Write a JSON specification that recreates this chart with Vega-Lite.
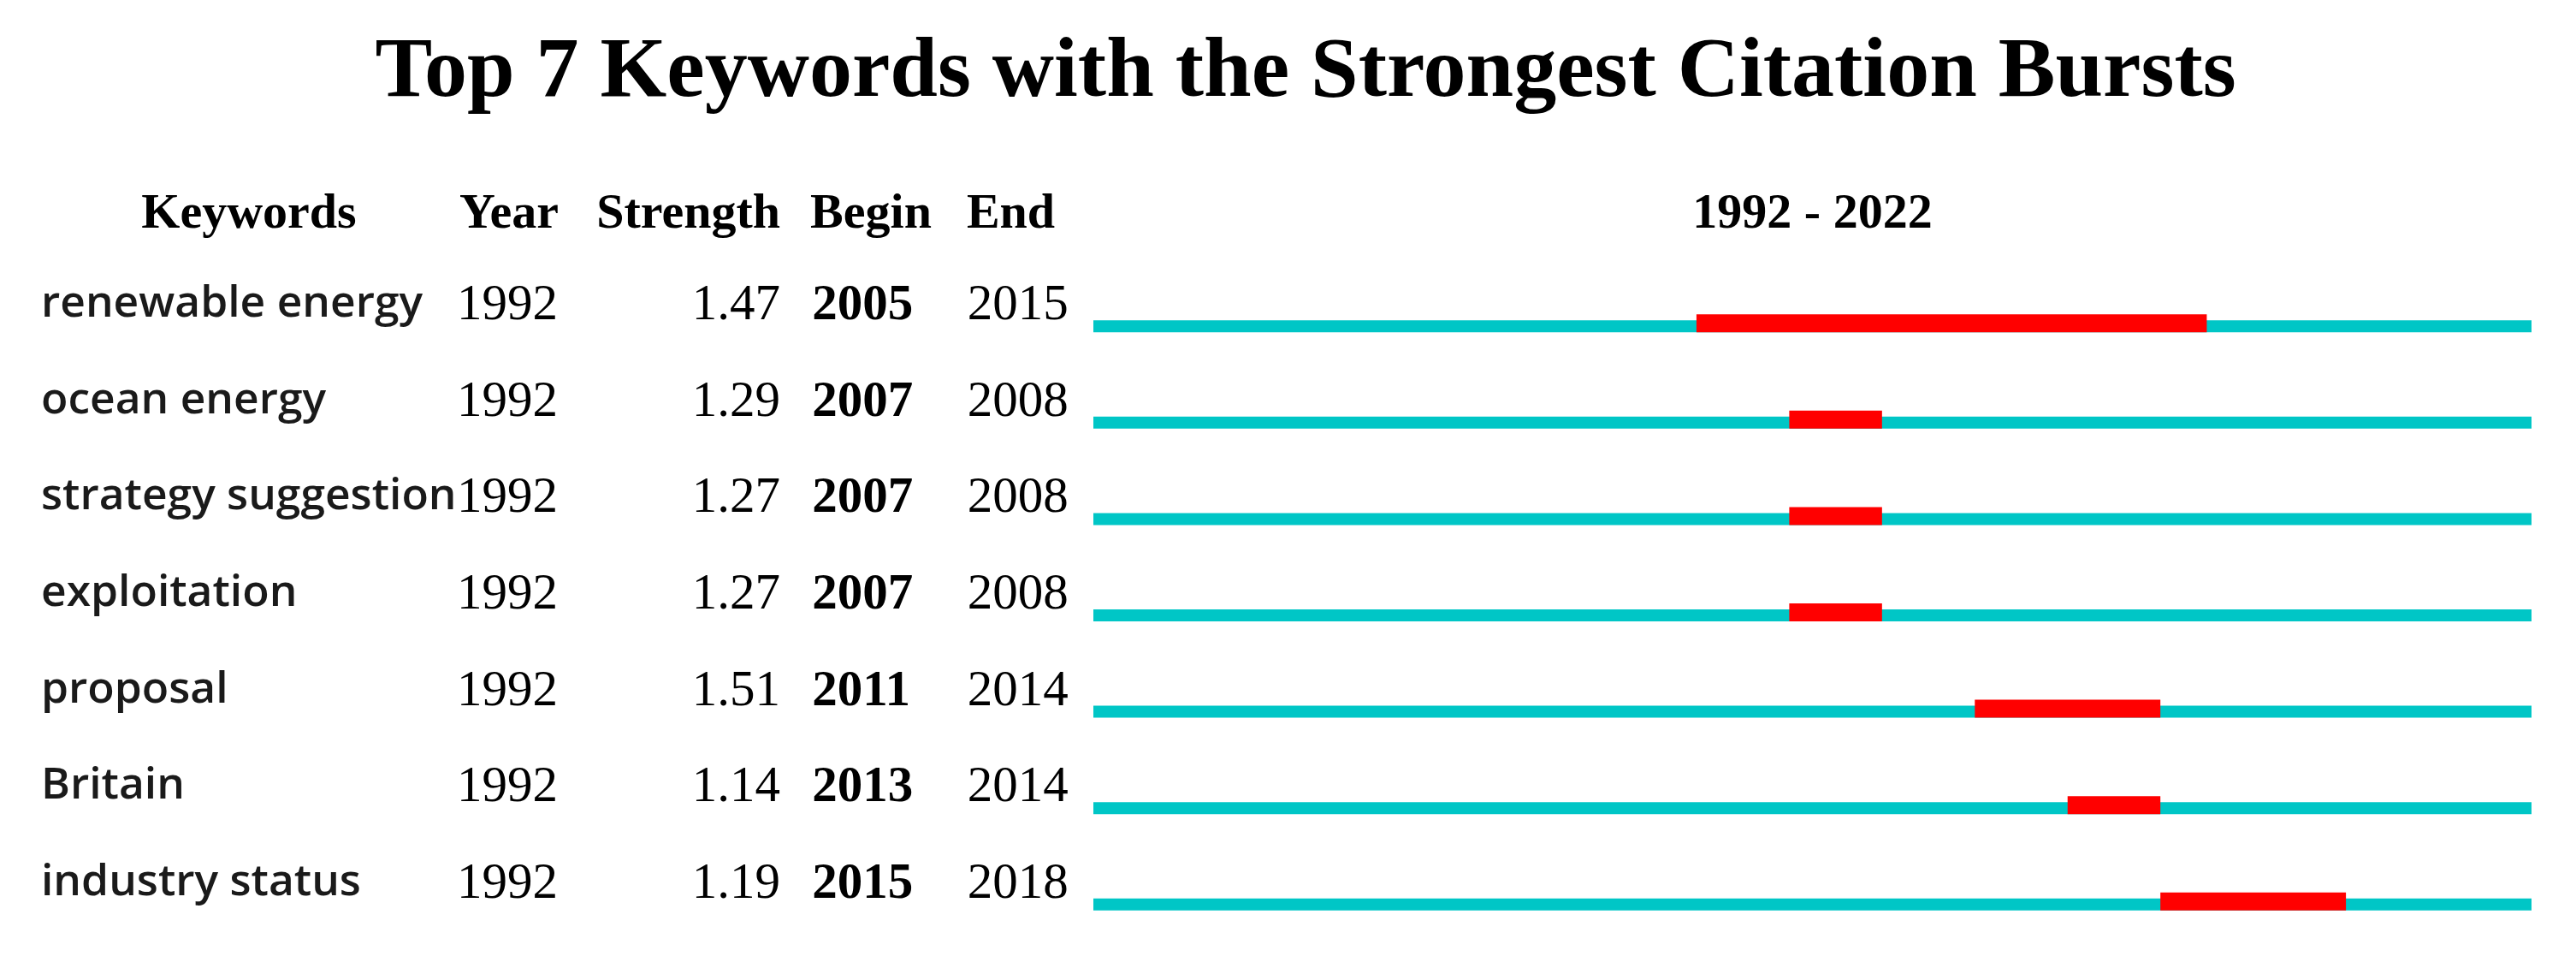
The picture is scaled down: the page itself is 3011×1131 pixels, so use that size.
{
  "$schema": "https://vega.github.io/schema/vega-lite/v6.json",
  "background": "white",
  "padding": {"left": 48, "top": 32, "right": 53, "bottom": 0},
  "title": {
    "text": "Top 7 Keywords with the Strongest Citation Bursts",
    "font": "Liberation Serif",
    "fontSize": 100,
    "fontWeight": "bold",
    "color": "#000000",
    "anchor": "middle",
    "frame": "bounds",
    "baseline": "alphabetic",
    "dx": 19,
    "offset": 8
  },
  "data": {
    "values": [
      {"keyword": "renewable energy", "year": 1992, "strength": 1.47, "begin": 2005, "end": 2015, "burstStop": 2016, "timelineStop": 2023},
      {"keyword": "ocean energy", "year": 1992, "strength": 1.29, "begin": 2007, "end": 2008, "burstStop": 2009, "timelineStop": 2023},
      {"keyword": "strategy suggestion", "year": 1992, "strength": 1.27, "begin": 2007, "end": 2008, "burstStop": 2009, "timelineStop": 2023},
      {"keyword": "exploitation", "year": 1992, "strength": 1.27, "begin": 2007, "end": 2008, "burstStop": 2009, "timelineStop": 2023},
      {"keyword": "proposal", "year": 1992, "strength": 1.51, "begin": 2011, "end": 2014, "burstStop": 2015, "timelineStop": 2023},
      {"keyword": "Britain", "year": 1992, "strength": 1.14, "begin": 2013, "end": 2014, "burstStop": 2015, "timelineStop": 2023},
      {"keyword": "industry status", "year": 1992, "strength": 1.19, "begin": 2015, "end": 2018, "burstStop": 2019, "timelineStop": 2023}
    ]
  },
  "config": {
    "view": {"stroke": null},
    "concat": {"spacing": 0},
    "title": {"font": "Liberation Serif", "fontSize": 58, "fontWeight": "bold", "color": "#000000", "baseline": "alphabetic", "offset": 21, "frame": "group"}
  },
  "spacing": 0,
  "hconcat": [
    {
      "width": 486,
      "height": 788,
      "title": {"text": "Keywords", "anchor": "middle"},
      "mark": {"type": "text", "align": "left", "baseline": "middle", "font": "Open Sans", "fontWeight": 600, "fontSize": 51.5, "color": "#1a1a1a"},
      "encoding": {
        "x": {"datum": "Keywords", "type": "nominal", "scale": {"type": "point", "padding": 0, "align": 0}, "axis": null},
        "y": {"field": "keyword", "type": "nominal", "sort": null, "scale": {"type": "point", "padding": 0.5}, "axis": null},
        "text": {"field": "keyword", "type": "nominal"}
      }
    },
    {
      "width": 122,
      "height": 788,
      "title": {"text": "Year", "anchor": "middle"},
      "mark": {"type": "text", "align": "left", "baseline": "middle", "font": "Liberation Serif", "fontSize": 59, "color": "#000000"},
      "encoding": {
        "x": {"datum": "Year", "type": "nominal", "scale": {"type": "point", "padding": 0, "align": 0}, "axis": null},
        "y": {"field": "keyword", "type": "nominal", "sort": null, "scale": {"type": "point", "padding": 0.5}, "axis": null},
        "text": {"field": "year", "type": "nominal"}
      }
    },
    {
      "width": 256,
      "height": 788,
      "title": {"text": "Strength", "anchor": "end"},
      "mark": {"type": "text", "align": "right", "baseline": "middle", "font": "Liberation Serif", "fontSize": 59, "color": "#000000"},
      "encoding": {
        "x": {"datum": "Strength", "type": "nominal", "scale": {"type": "point", "padding": 0, "align": 1}, "axis": null},
        "y": {"field": "keyword", "type": "nominal", "sort": null, "scale": {"type": "point", "padding": 0.5}, "axis": null},
        "text": {"field": "strength", "type": "quantitative", "format": ".2f"}
      }
    },
    {
      "width": 186,
      "height": 788,
      "title": {"text": "Begin", "anchor": "middle", "dx": 13},
      "mark": {"type": "text", "align": "left", "baseline": "middle", "font": "Liberation Serif", "fontSize": 59, "fontWeight": "bold", "color": "#000000"},
      "encoding": {
        "x": {"datum": "Begin", "type": "nominal", "scale": {"type": "point", "padding": 0, "align": 0.2}, "axis": null},
        "y": {"field": "keyword", "type": "nominal", "sort": null, "scale": {"type": "point", "padding": 0.5}, "axis": null},
        "text": {"field": "begin", "type": "nominal"}
      }
    },
    {
      "width": 173,
      "height": 788,
      "title": {"text": "End", "anchor": "middle", "dx": -3},
      "mark": {"type": "text", "align": "left", "baseline": "middle", "font": "Liberation Serif", "fontSize": 59, "color": "#000000"},
      "encoding": {
        "x": {"datum": "End", "type": "nominal", "scale": {"type": "point", "padding": 0, "align": 0.19}, "axis": null},
        "y": {"field": "keyword", "type": "nominal", "sort": null, "scale": {"type": "point", "padding": 0.5}, "axis": null},
        "text": {"field": "end", "type": "nominal"}
      }
    },
    {
      "width": 1681,
      "height": 788,
      "title": {"text": "1992 - 2022", "anchor": "middle"},
      "encoding": {
        "y": {"field": "keyword", "type": "nominal", "sort": null, "scale": {"type": "point", "padding": 0.5}, "axis": null}
      },
      "layer": [
        {
          "mark": {"type": "rule", "color": "#00C6C6", "strokeWidth": 14, "strokeCap": "butt", "yOffset": 26},
          "encoding": {
            "x": {"field": "year", "type": "quantitative", "scale": {"domain": [1992, 2023], "nice": false, "zero": false}, "axis": null},
            "x2": {"field": "timelineStop"}
          }
        },
        {
          "mark": {"type": "rule", "color": "#FF0000", "strokeWidth": 21, "strokeCap": "butt", "yOffset": 22.5},
          "encoding": {
            "x": {"field": "begin", "type": "quantitative"},
            "x2": {"field": "burstStop"}
          }
        }
      ]
    }
  ]
}
